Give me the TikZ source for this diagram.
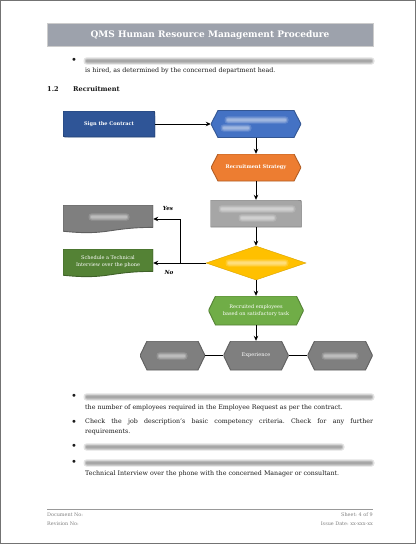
\documentclass[tikz,border=0pt]{standalone}
\usepackage{fontspec}
\setmainfont{DejaVu Serif}
\usetikzlibrary{shapes.geometric,arrows.meta}
\frenchspacing
\definecolor{blueD}{HTML}{2F5597}
\definecolor{blueL}{HTML}{4472C4}
\definecolor{orangeC}{HTML}{ED7D31}
\definecolor{grayL}{HTML}{A6A6A6}
\definecolor{grayD}{HTML}{7F7F7F}
\definecolor{goldC}{HTML}{FFC000}
\definecolor{greenD}{HTML}{548235}
\definecolor{greenL}{HTML}{70AD47}
\definecolor{titleG}{HTML}{9DA2AC}
\definecolor{textC}{HTML}{1A1A1A}
\newcommand\blurline[4]{%
  \fill[#1,opacity=0.16,rounded corners=3pt] (#2-1.5,#4-3.6) rectangle (#3+1.5,#4+3.6);
  \fill[#1,opacity=0.22,rounded corners=2pt] (#2,#4-2.5) rectangle (#3,#4+2.5);
  \fill[#1,opacity=0.22,rounded corners=1pt] (#2+1,#4-1.4) rectangle (#3-1,#4+1.4);}
\tikzset{
  box/.style={rectangle,draw=none,inner sep=1pt,text=white,align=center,
    font=\fontsize{5}{6.6}\selectfont},
  hexa/.style={box,minimum width=#1},
  hexfill/.style={path picture={\filldraw[fill=#1,draw=#1!75!black,line width=0.9pt]
    (path picture bounding box.west) -- ([xshift=7pt]path picture bounding box.north west)
    -- ([xshift=-7pt]path picture bounding box.north east) -- (path picture bounding box.east)
    -- ([xshift=-7pt]path picture bounding box.south east) -- ([xshift=7pt]path picture bounding box.south west) -- cycle;}},
  docfill/.style={path picture={\filldraw[fill=#1,draw=#1!75!black,line width=0.9pt]
    (path picture bounding box.north west) -- (path picture bounding box.north east)
    -- ([yshift=5.6pt]path picture bounding box.south east)
    .. controls ([yshift=5.6pt]path picture bounding box.south) and ([yshift=-3pt]path picture bounding box.south)
    .. ([yshift=1.8pt]path picture bounding box.south west) -- cycle;}},
  onecorner/.style={path picture={\filldraw[fill=#1,draw=#1!80!black,line width=0.9pt]
    (path picture bounding box.south west) -- (path picture bounding box.north west)
    -- ([xshift=-5pt]path picture bounding box.north east) .. controls (path picture bounding box.north east)
    .. ([yshift=-5pt]path picture bounding box.north east) -- (path picture bounding box.south east) -- cycle;}},
  twocorner/.style={path picture={\filldraw[fill=#1,draw=#1!75!black,line width=0.9pt]
    ([yshift=5pt]path picture bounding box.south west) -- (path picture bounding box.north west)
    -- ([xshift=-5pt]path picture bounding box.north east) .. controls (path picture bounding box.north east)
    .. ([yshift=-5pt]path picture bounding box.north east) -- (path picture bounding box.south east)
    -- ([xshift=5pt]path picture bounding box.south west) .. controls (path picture bounding box.south west)
    .. cycle;}},
  arr/.style={draw=black,line width=0.8pt,-{Stealth[length=5pt,width=4.5pt]}},
  link/.style={draw=black,line width=0.8pt},
  body/.style={font=\fontsize{6.3}{10}\selectfont,text=textC,inner sep=0pt},
  bul/.style={font=\fontsize{10}{10}\selectfont,text=textC,inner sep=0pt},
  foot/.style={font=\fontsize{4.9}{6}\selectfont,text=black!50,inner sep=0pt},
}
\begin{document}
\begin{tikzpicture}[x=1pt,y=-1pt]
\useasboundingbox (0,0) rectangle (416,544);
\fill[white] (0,0) rectangle (416,544);
\draw[black!55,line width=1pt] (0.5,0.5) rectangle (415.5,543.5);
% title
\fill[titleG] (47,23) rectangle (373,46);
\draw[black!20,line width=0.6pt] (47,23) rectangle (373,46);
\node (title) at (210,35) [text=white,font=\fontsize{9}{11}\selectfont\bfseries,inner sep=0pt] {QMS Human Resource Management Procedure};
% first bullet
\node[bul] (b1) at (74,61) {•};
\blurline{black!70}{85}{373}{61}
\node[body,anchor=west] (t1) at (85,71) {is hired, as determined by the concerned department head.};
\node[body,font=\fontsize{6.6}{9}\selectfont\bfseries,anchor=west] (sec) at (47,89) {1.2};
\node[body,font=\fontsize{6.6}{9}\selectfont\bfseries,anchor=west] (rec) at (73,89) {Recruitment};
% flow nodes
\node[box,minimum width=92pt,minimum height=26pt,twocorner=blueD,font=\fontsize{5}{6.6}\selectfont\bfseries] (sign) at (109,124) {Sign the Contract};
\node[hexa=90pt,minimum height=27pt,hexfill=blueL] (h1) at (256,124) {};
\node[hexa=90pt,minimum height=27pt,hexfill=orangeC,font=\fontsize{5}{6.6}\selectfont\bfseries] (h2) at (256,167.5) {Recruitment Strategy};
\node[box,minimum width=91pt,minimum height=27pt,onecorner=grayL] (gr) at (256,213.5) {};
\node[diamond,aspect=2.9,fill=goldC,draw=goldC!85!black,line width=0.4pt,minimum width=100pt,minimum height=34pt,inner sep=0pt] (dia) at (256,263) {};
\node[box,minimum width=90pt,minimum height=28pt,docfill=greenD,text depth=4pt] (d2) at (108,263) {Schedule a Technical\\Interview over the phone};
\node[box,minimum width=90pt,minimum height=28pt,docfill=grayD] (d1) at (108,219) {};
\node[hexa=95pt,minimum height=29pt,hexfill=greenL] (h3) at (256,310.5) {Recruited employees\\based on satisfactory task};
\node[hexa=65pt,minimum height=29pt,hexfill=grayD] (h4) at (172.5,355.5) {};
\node[hexa=65pt,minimum height=29pt,hexfill=grayD] (h5) at (256,355.5) {Experience};
\node[hexa=65pt,minimum height=29pt,hexfill=grayD] (h6) at (340,355.5) {};
% blurred labels inside shapes
\blurline{white}{226}{287}{120}
\blurline{white}{222}{250}{128}
\blurline{white}{220}{294}{209}
\blurline{white}{240}{275}{218}
\blurline{white}{227}{287}{263}
\blurline{white}{90}{128}{217}
\blurline{white}{158}{186}{356}
\blurline{white}{323}{357}{356}
% connectors
\draw[arr] (sign) -- (h1);
\draw[arr] (h1) -- (h2);
\draw[arr] (h2) -- (gr);
\draw[arr] (gr) -- (dia);
\coordinate (jn) at (180,263);
\draw[arr] (dia.west) -- (d2.east);
\draw[arr] (jn) |- (d1.east);
\draw[arr] (dia) -- (h3);
\draw[arr] (h3) -- (h5);
\draw[link] (h4) -- (h5);
\draw[link] (h5) -- (h6);
\node[font=\fontsize{5.6}{7}\selectfont\bfseries\itshape,inner sep=0pt] (yes) at (168,208) {Yes};
\node[font=\fontsize{5.6}{7}\selectfont\bfseries\itshape,inner sep=0pt] (no) at (169,272) {No};
% lower bullets
\node[bul] (b2) at (74,397) {•};
\node[body,anchor=west] (t2) at (85,408) {the number of employees required in the Employee Request as per the contract.};
\blurline{black!70}{85}{373}{397}
\node[bul] (b3) at (74,423) {•};
\node[body,anchor=north west,text width=288pt,align=justify] (t3) at (85,418.5) {Check the job description's basic competency criteria. Check for any further\linebreak requirements.};
\node[bul] (b4) at (74,447) {•};
\blurline{black!70}{85}{343}{447}
\node[bul] (b5) at (74,463) {•};
\blurline{black!70}{85}{373}{463}
\node[body,anchor=west] (t5) at (85,474) {Technical Interview over the phone with the concerned Manager or consultant.};
% footer
\draw[black!40,line width=0.8pt] (47,509) -- (373,509);
\node[foot,anchor=west] (f1) at (47,515) {Document No:};
\node[foot,anchor=west] (f2) at (47,524) {Revision No:};
\node[foot,anchor=east] (f3) at (373,515) {Sheet: 4 of 9};
\node[foot,anchor=east] (f4) at (373,524) {Issue Date: xx-xxx-xx};
\end{tikzpicture}
\end{document}
